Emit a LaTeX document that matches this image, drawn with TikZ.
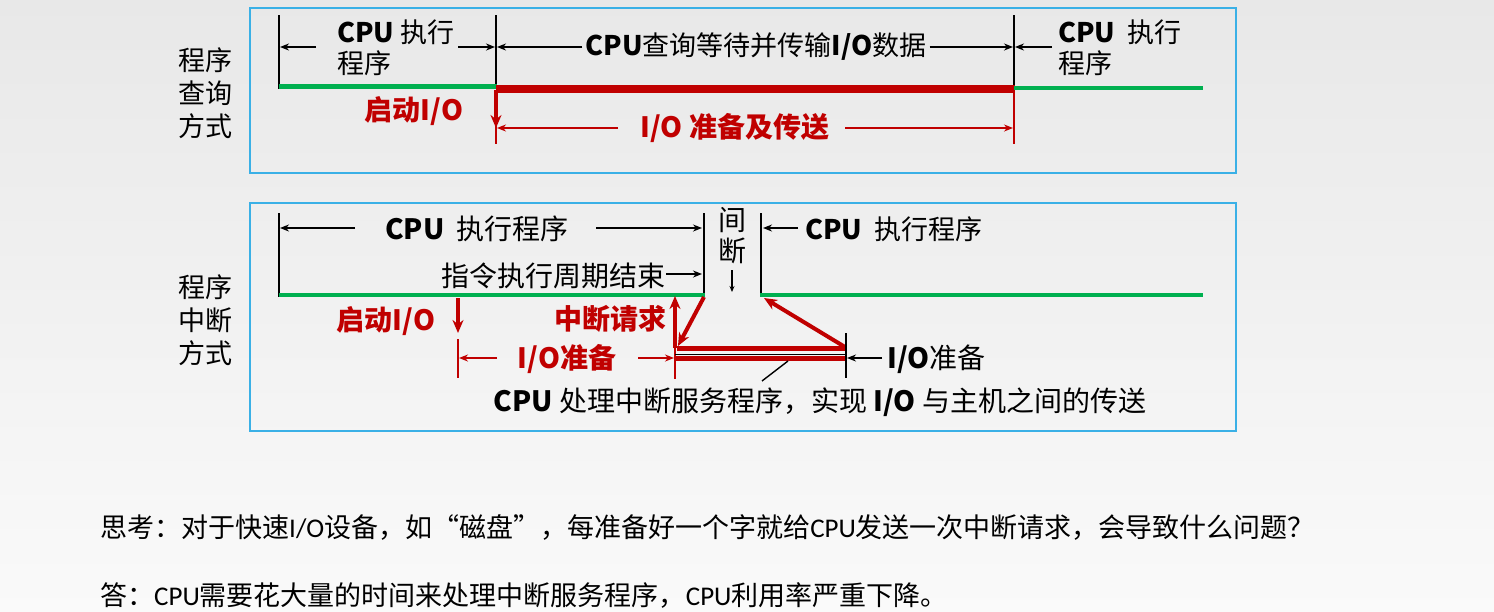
\documentclass[tikz,border=0pt]{standalone}
\usepackage{fontspec}
\setmainfont{Noto Sans CJK SC}
\newfontfamily\carl{Carlito}
\usetikzlibrary{arrows.meta}
\definecolor{cred}{HTML}{C00000}
\definecolor{cgreen}{HTML}{00B050}
\definecolor{cblue}{HTML}{3AB0E6}
\newcommand{\B}[1]{{\bfseries #1}}
\tikzset{
  lbl/.style={inner sep=0pt, font=\fontsize{28}{32}\selectfont, text=black},
  slbl/.style={inner sep=0pt, font=\fontsize{27}{31}\selectfont, text=black},
  rlbl/.style={inner sep=0pt, font=\fontsize{28}{32}\selectfont\bfseries, text=cred},
  side/.style={inner sep=0pt, font=\fontsize{27}{33}\selectfont, align=center},
  note/.style={inner sep=0pt, anchor=west, font=\fontsize{27}{32}\selectfont},
  panel/.style={draw=cblue, line width=1.6pt},
  tick/.style={draw=black, line width=2pt},
  rtick/.style={draw=cred, line width=2pt},
  gline/.style={draw=cgreen, line width=4.5pt},
  rbar/.style={draw=cred, line width=8pt},
  rdbl/.style={draw=cred, line width=5pt},
  barr/.style={draw=black, line width=1.6pt, -{Stealth[length=9pt,width=7pt]}},
  rarr/.style={draw=cred, line width=1.8pt, -{Stealth[length=9pt,width=7pt]}},
  rbig/.style={draw=cred, line width=4pt, -{Stealth[length=13pt,width=11pt]}},
}
\begin{document}
\begin{tikzpicture}[x=1pt,y=-1pt]
\useasboundingbox (0,0) rectangle (1494,611);
\fill[top color=black!9, bottom color=black!2] (0,0) rectangle (1494,611);

% panels
\draw[panel] (250,8) rectangle (1236,173);
\draw[panel] (250,203) rectangle (1236,431);

% side labels
\node[side] (s1) at (205,93) {程序\\查询\\方式};
\node[side] (s2) at (205,320) {程序\\中断\\方式};

% ================= top panel =================
\coordinate (A0) at (279,15);  \coordinate (A1) at (279,89);
\coordinate (B0) at (496,15);  \coordinate (B1) at (496,86);
\coordinate (C0) at (1014,15); \coordinate (C1) at (1014,86);
\draw[tick] (A0) -- (A1);
\draw[tick] (B0) -- (B1);
\draw[tick] (C0) -- (C1);

\coordinate (g1s) at (279,86.5); \coordinate (g1e) at (497,86.5);
\coordinate (r1s) at (496,88.5); \coordinate (r1e) at (1015,88.5);
\coordinate (g2s) at (1014,88);  \coordinate (g2e) at (1203,88);
\draw[gline] (g1s) -- (g1e);
\draw[rbar] (r1s) -- (r1e);
\draw[gline] (g2s) -- (g2e);

% red verticals
\coordinate (rv1a) at (496,90); \coordinate (rv1b) at (496,144);
\coordinate (rv2a) at (1014,92); \coordinate (rv2b) at (1014,144);
\draw[rtick] (rv1a) -- (rv1b);
\draw[rtick] (rv2a) -- (rv2b);
\coordinate (st1) at (496,128);
\draw[rbig] (rv1a) -- (st1);

% top arrows row
\node[slbl, anchor=west, align=left] (t1) at (337,48) {\B{CPU} 执行\\程序};
\node[slbl] (t2) at (756,47) {\B{CPU}查询等待并传输\B{I/O}数据};
\node[slbl, anchor=west, align=left] (t3) at (1058,48) {\B{CPU}\ \ 执行\\程序};
\coordinate (a1) at (316,47); \coordinate (a1t) at (280,47);
\coordinate (a2) at (458,47); \coordinate (a2t) at (495,47);
\coordinate (a3t) at (497,47);
\coordinate (a4t) at (1013,47);
\coordinate (a5) at (1052,47); \coordinate (a5t) at (1015,47);
\draw[barr] (a1) -- (a1t);
\draw[barr] (a2) -- (a2t);
\draw[barr] ([xshift=-3pt]t2.west |- a3t) -- (a3t);
\draw[barr] ([xshift=3pt]t2.east |- a4t) -- (a4t);
\draw[barr] (a5) -- (a5t);

% red labels
\node[rlbl] (q1) at (414,111) {启动I/O};
\node[rlbl] (q2) at (735,128) {I/O 准备及传送};
\coordinate (b1) at (618,128); \coordinate (b1t) at (497,128);
\coordinate (b2) at (845,128); \coordinate (b2t) at (1013,128);
\draw[rarr] (b1) -- (b1t);
\draw[rarr] (b2) -- (b2t);

% ================= bottom panel =================
\coordinate (D0) at (279,213); \coordinate (D1) at (279,297);
\coordinate (E0) at (704,213); \coordinate (E1) at (704,296);
\coordinate (F0) at (761,213); \coordinate (F1) at (761,297);
\draw[tick] (D0) -- (D1);
\draw[tick] (E0) -- (E1);
\draw[tick] (F0) -- (F1);

\coordinate (g3s) at (279,295); \coordinate (g3e) at (705,295);
\coordinate (g4s) at (760,295); \coordinate (g4e) at (1203,295);
\draw[gline] (g3s) -- (g3e);
\draw[gline] (g4s) -- (g4e);

\node[lbl] (u1) at (477,229) {\B{CPU}\ \ 执行程序};
\node[lbl, anchor=east] (u2) at (666,276) {指令执行周期结束};
\node[lbl] (u3) at (732,220) {间};
\node[lbl] (u4) at (732,251) {断};
\node[slbl, anchor=west] (u5) at (805,229) {\B{CPU}\ \ 执行程序};
\coordinate (c1) at (355,228); \coordinate (c1t) at (280,228);
\coordinate (c2) at (596,228); \coordinate (c2t) at (702,228);
\coordinate (c3) at (666,274); \coordinate (c3t) at (702,274);
\coordinate (c4) at (732,270); \coordinate (c4t) at (732,292);
\coordinate (c5) at (798,228); \coordinate (c5t) at (763,228);
\draw[barr] (c1) -- (c1t);
\draw[barr] (c2) -- (c2t);
\draw[barr] (c3) -- (c3t);
\draw[draw=black, line width=1.2pt, -{Stealth[length=6pt,width=5pt]}] (c4) -- (c4t);
\draw[barr] (c5) -- (c5t);

% red part
\node[rlbl] (v1) at (386,321) {启动I/O};
\coordinate (d1) at (458,298); \coordinate (d1t) at (458,333);
\draw[rbig] (d1) -- (d1t);
\coordinate (d2) at (458,339); \coordinate (d2t) at (458,378);
\draw[rtick] (d2) -- (d2t);
\node[rlbl] (v2) at (567,359) {I/O准备};
\coordinate (e1) at (497,358); \coordinate (e1t) at (459,358);
\coordinate (e2) at (638,358); \coordinate (e2t) at (674,358);
\draw[rarr] (e1) -- (e1t);
\draw[rarr] (e2) -- (e2t);
\coordinate (h0) at (675,296); \coordinate (h1) at (675,348); \coordinate (h2) at (675,379);
\draw[rtick] (h1) -- (h2);
\draw[rbig] (h1) -- (h0);
\node[rlbl] (v3) at (610,319) {中断请求};

% double bar
\coordinate (k1s) at (677,348.5); \coordinate (k1e) at (845,348.5);
\coordinate (k2s) at (675,354.2); \coordinate (k2e) at (845,354.2);
\coordinate (k3s) at (675,358);   \coordinate (k3e) at (845,358);
\draw[rdbl] (k1s) -- (k1e);
\draw[rdbl] (k3s) -- (k3e);
\draw[draw=black, line width=1.2pt] (k2s) -- (k2e);

% diagonals
\coordinate (m0) at (704,297); \coordinate (m1) at (678,346);
\draw[rbig] (m0) -- (m1);
\coordinate (n0) at (845,347); \coordinate (n1) at (764,298);
\draw[rbig] (n0) -- (n1);

% right tick and label
\coordinate (P0) at (846,333); \coordinate (P1) at (846,378);
\draw[tick] (P0) -- (P1);
\node[lbl, anchor=west] (w1) at (887,359) {\B{I/O}准备};
\coordinate (f1) at (882,358); \coordinate (f1t) at (847,358);
\draw[barr] (f1) -- (f1t);

% pointer line and caption
\node[lbl] (w2) at (820,402) {\B{CPU} 处理中断服务程序，实现 \B{I/O} 与主机之间的传送};
\coordinate (p0) at (788,361); \coordinate (p1) at (762,381);
\draw[draw=black, line width=1.4pt] (p0) -- (p1);

% ================= bottom text =================
\node[note] (x1) at (100,527) {思考：对于快速{\carl I/O}设备，如“磁盘”，每准备好一个字就给{\carl CPU}发送一次中断请求，会导致什么问题？};
\node[note] (x2) at (100,595) {答：{\carl CPU}需要花大量的时间来处理中断服务程序，{\carl CPU}利用率严重下降。};
\end{tikzpicture}
\end{document}
